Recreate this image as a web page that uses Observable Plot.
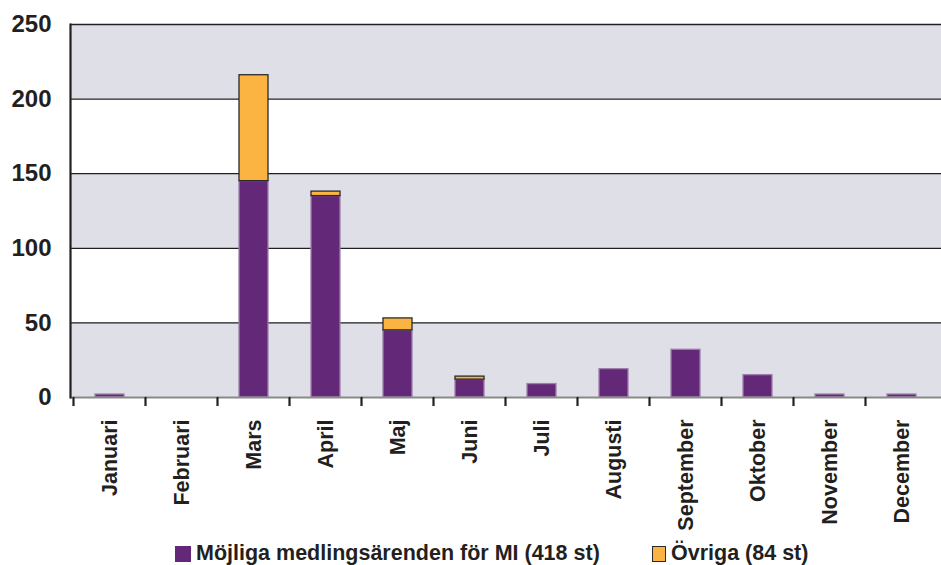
<!DOCTYPE html>
<html>
<head>
<meta charset="utf-8">
<script src="https://cdn.jsdelivr.net/npm/d3@7"></script>
<script src="https://cdn.jsdelivr.net/npm/@observablehq/plot@0.6"></script>
<style>
  html, body { margin: 0; padding: 0; background: #fff; overflow: hidden; }
  #chart { position: relative; width: 941px; height: 565px; }
  .item { position: absolute; top: 541px; display: flex; align-items: center;
    font-family: "Liberation Sans", Arial, sans-serif; font-weight: bold;
    font-size: 21.5px; color: #231f20; white-space: nowrap; }
  .sw { display: inline-block; width: 16px; height: 16px; margin-right: 5px; box-sizing: border-box; }
</style>
</head>
<body>
<div id="chart"></div>
<script>
const months = ["Januari","Februari","Mars","April","Maj","Juni","Juli","Augusti","September","Oktober","November","December"];
const mojliga = [2, 0, 145, 135, 45, 12, 9, 19, 32, 15, 2, 2];
const ovriga  = [0, 0, 71, 3, 8, 2, 0, 0, 0, 0, 0, 0];
const seriesNames = ["Möjliga medlingsärenden för MI (418 st)", "Övriga (84 st)"];
const seriesColors = ["#642878", "#fbb442"];
const yTicks = [0, 50, 100, 150, 200, 250];

const data = [];
months.forEach((m, i) => {
  data.push({month: m, series: seriesNames[0], value: mojliga[i]});
  data.push({month: m, series: seriesNames[1], value: ovriga[i]});
});
const bands = yTicks.slice(0, -1).map((t, i) => ({y1: t, y2: yTicks[i + 1], shade: i % 2 === 0}))
  .filter(d => d.shade);

// tick marks at band boundaries
function boundaryTicks(index, scales, values, dimensions) {
  const x = scales.x, y = scales.y;
  const g = d3.create("svg:g");
  const step = x.step(), bw = x.bandwidth();
  const edges = months.map(m => x(m) - (step - bw) / 2);
  const y0 = y(0);
  for (const e of edges) {
    g.append("line").attr("x1", e).attr("x2", e).attr("y1", y0).attr("y2", y0 + 9)
      .attr("stroke", "#231f20").attr("stroke-width", 2.2);
  }
  return g.node();
}

const plot = Plot.plot({
  width: 941,
  height: 540,
  marginLeft: 70,
  marginRight: 0,
  marginTop: 24,
  marginBottom: 143,
  style: {fontFamily: "'Liberation Sans', Arial, sans-serif", color: "#231f20", background: "#fff"},
  x: {domain: months, paddingInner: 0.6, paddingOuter: 0.3, label: null},
  y: {domain: [0, 250], ticks: yTicks, label: null},
  color: {domain: seriesNames, range: seriesColors},
  marks: [
    Plot.rect(bands, {y1: "y1", y2: "y2", fill: "#dfdfe8"}),
    Plot.ruleY(yTicks.slice(1), {stroke: "#231f20", strokeWidth: 1.3}),
    Plot.barY(data, {x: "month", y: "value", fill: "series", order: seriesNames,
      stroke: d => d.series === seriesNames[0] ? "#9c80aa" : "#2a2a2a",
      strokeWidth: 1.3, filter: d => d.value > 0}),
    Plot.ruleY([0], {stroke: "#8a8a8a", strokeWidth: 2}),
    Plot.frame({anchor: "left", stroke: "#231f20", strokeWidth: 2.2}),
    boundaryTicks,
    Plot.axisY({ticks: yTicks, tickSize: 0, tickPadding: 19, fontSize: 24, fontWeight: "bold",
      fontFamily: "'Liberation Sans', Arial, sans-serif", fill: "#231f20", label: null}),
    Plot.axisX({tickSize: 0, tickPadding: 22, tickRotate: -90, fontSize: 21.5, fontWeight: "bold",
      fontFamily: "'Liberation Sans', Arial, sans-serif", fill: "#231f20", label: null})
  ]
});
const chart = document.getElementById("chart");
chart.appendChild(plot);

const legendLeft = [175, 652];
seriesNames.forEach((name, i) => {
  const item = document.createElement("div");
  item.className = "item";
  item.style.left = legendLeft[i] + "px";
  const sw = document.createElement("span");
  sw.className = "sw";
  sw.style.background = seriesColors[i];
  if (i === 1) { sw.style.border = "1px solid #2a2a2a"; sw.style.width = "14px"; }
  item.appendChild(sw);
  item.appendChild(document.createTextNode(name));
  chart.appendChild(item);
});
</script>
</body>
</html>
